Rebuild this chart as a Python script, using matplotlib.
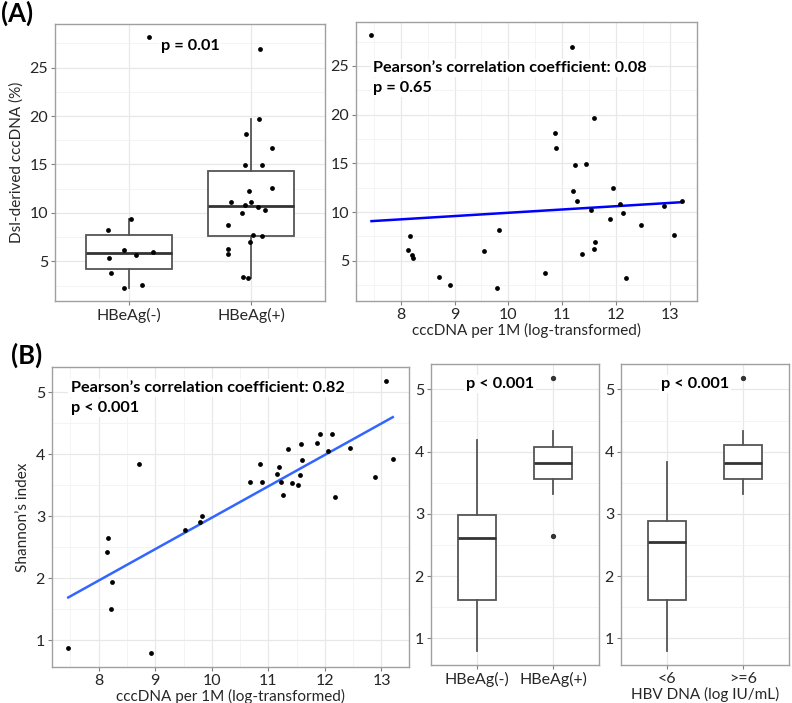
import numpy as np
import matplotlib
matplotlib.use("Agg")
import matplotlib.pyplot as plt
from matplotlib.ticker import MultipleLocator, FixedLocator, NullLocator

plt.rcParams['font.family'] = ['Lato', 'DejaVu Sans']

# ---------------- Data ----------------
a_groups = ["HBeAg(-)", "HBeAg(+)"]
dsi_neg = [28.2, 9.36, 8.2, 6.2, 6.0, 5.65, 5.3, 3.8, 2.6, 2.2]
dsi_neg_jitter = [0.17, 0.016, -0.17, -0.04, 0.2, 0.056, -0.16, -0.14, 0.11, -0.04]
dsi_pos = [26.93, 19.74, 18.1, 16.65, 14.9, 14.97, 12.56, 12.29, 11.15, 11.15, 10.8,
           10.64, 10.29, 9.98, 8.78, 7.68, 7.61, 6.96, 6.27, 5.72, 3.38, 3.32]
dsi_pos_jitter = [0.07, 0.06, -0.04, 0.17, -0.05, 0.09, 0.17, -0.02, -0.17, 0.0, -0.05,
                  0.05, 0.11, -0.08, -0.19, 0.01, 0.09, -0.01, -0.19, -0.19, -0.07, -0.03]

ccc_a = [7.46, 11.17, 11.59, 10.87, 10.89, 11.23, 11.43, 11.94, 11.19, 11.27, 13.21,
         12.07, 12.89, 11.54, 12.13, 11.88, 12.45, 9.83, 8.17, 13.08, 11.6, 8.14,
         9.54, 11.58, 8.22, 8.23, 11.36, 8.72, 10.67, 8.92, 9.79, 12.18]
dsi_a = [28.2, 26.9, 19.7, 18.1, 16.6, 14.8, 14.9, 12.5, 12.2, 11.1, 11.1,
         10.8, 10.6, 10.2, 9.9, 9.33, 8.7, 8.2, 7.56, 7.66, 6.94, 6.13,
         6.02, 6.23, 5.61, 5.3, 5.72, 3.33, 3.77, 2.54, 2.17, 3.26]

ccc_b = [7.46, 8.92, 8.14, 8.16, 8.23, 8.22, 8.72, 9.53, 9.79, 9.82, 10.67, 10.86,
         10.88, 11.16, 11.18, 11.22, 11.26, 11.35, 11.42, 11.53, 11.56, 11.58, 11.59,
         11.86, 11.92, 12.06, 12.13, 12.18, 12.44, 12.88, 13.08, 13.2]
shannon_b = [0.88, 0.79, 2.43, 2.65, 1.94, 1.50, 3.84, 2.78, 2.91, 3.0, 3.55, 3.84,
             3.56, 3.69, 3.79, 3.56, 3.34, 4.09, 3.54, 3.5, 3.66, 4.17, 3.91,
             4.18, 4.33, 4.06, 4.33, 3.32, 4.11, 3.63, 5.19, 3.93]

shannon_hbeag_neg = [0.88, 0.79, 3.0, 2.43, 2.78, 1.50, 1.94, 3.55, 2.91, 4.18]
shannon_hbeag_pos = [2.65, 3.84, 3.84, 3.56, 3.69, 3.79, 3.56, 3.34, 4.09, 3.54, 3.5,
                     3.66, 4.17, 3.91, 4.33, 4.06, 4.33, 3.32, 4.11, 3.63, 5.19, 3.93]
dna_groups = ["<6", ">=6"]
shannon_dna_low = [0.79, 0.88, 1.50, 1.94, 2.43, 2.65, 2.78, 2.91, 3.0, 3.84]
shannon_dna_high = [3.32, 3.34, 3.5, 3.54, 3.55, 3.56, 3.56, 3.63, 3.66, 3.69, 3.79,
                    3.84, 3.91, 3.93, 4.06, 4.09, 4.11, 4.17, 4.18, 4.33, 4.33, 5.19]

# ---------------- Layout ----------------
W, H = 792, 703
fig = plt.figure(figsize=(W / 100, H / 100), dpi=100)


def add_ax(left, right, top, bottom):
    return fig.add_axes([left / W, 1 - bottom / H, (right - left) / W, (bottom - top) / H])


TICK_FS = 11.5
LAB_FS = 11
ANN_FS = 11.7
BORDER = '#a0a0a0'
PT_S = 12


def style(ax):
    for s in ax.spines.values():
        s.set_color(BORDER)
        s.set_linewidth(1.0)
    ax.tick_params(which='major', color='#808080', length=3, width=0.8,
                   labelsize=TICK_FS, labelcolor='#262626', pad=2)
    ax.tick_params(which='minor', length=0)
    ax.grid(which='major', color='#e8e8e8', lw=0.9)
    ax.grid(which='minor', color='#f2f2f2', lw=0.6)
    ax.set_axisbelow(True)


def expand(vals):
    lo, hi = min(vals), max(vals)
    r = hi - lo
    return lo - 0.05 * r, hi + 0.05 * r


def boxes(ax, data, width, fliers):
    ax.boxplot(data, positions=[1, 2], widths=width, showfliers=fliers, showcaps=False,
               patch_artist=True, whis=1.5,
               boxprops=dict(facecolor='white', edgecolor='#555555', lw=1.3),
               medianprops=dict(color='#333333', lw=2.0),
               whiskerprops=dict(color='#555555', lw=1.3),
               flierprops=dict(marker='o', markerfacecolor='#333333', markeredgecolor='#333333',
                               markersize=2.8), zorder=2)


def label(ax, x, y, s, ha='left'):
    ax.text(x, y, s, transform=ax.transAxes, ha=ha, va='center', fontsize=ANN_FS,
            fontweight='bold', color='black', zorder=5,
            bbox=dict(facecolor='white', edgecolor='none', pad=1.5))


# ---- A1 ----
ax1 = add_ax(55, 325, 24, 301)
style(ax1)
boxes(ax1, [dsi_neg, dsi_pos], 0.7, False)
ax1.scatter(1 + np.array(dsi_neg_jitter), dsi_neg, s=PT_S, color='black', zorder=4, lw=0)
ax1.scatter(2 + np.array(dsi_pos_jitter), dsi_pos, s=PT_S, color='black', zorder=4, lw=0)
ax1.set_xlim(0.4, 2.6)
ax1.set_ylim(*expand(dsi_neg + dsi_pos))
ax1.xaxis.set_major_locator(FixedLocator([1, 2]))
ax1.set_xticklabels(a_groups)
ax1.xaxis.set_minor_locator(NullLocator())
ax1.yaxis.set_major_locator(MultipleLocator(5))
ax1.yaxis.set_minor_locator(MultipleLocator(2.5))
ax1.set_ylabel('Dsl-derived cccDNA (%)', fontsize=LAB_FS, color='#262626', labelpad=4)
label(ax1, 0.5, 0.92, 'p = 0.01', ha='center')

# ---- A2 ----
ax2 = add_ax(356, 697, 22, 301)
style(ax2)
ax2.scatter(ccc_a, dsi_a, s=PT_S, color='black', zorder=4, lw=0)
k, b = np.polyfit(ccc_a, dsi_a, 1)
xs = np.array([min(ccc_a), max(ccc_a)])
ax2.plot(xs, k * xs + b, color='#0000ff', lw=1.8, zorder=3)
ax2.set_xlim(*expand(ccc_a))
ax2.set_ylim(*expand(dsi_a))
ax2.xaxis.set_major_locator(MultipleLocator(1))
ax2.xaxis.set_minor_locator(MultipleLocator(0.5))
ax2.yaxis.set_major_locator(MultipleLocator(5))
ax2.yaxis.set_minor_locator(MultipleLocator(2.5))
ax2.set_xlabel('cccDNA per 1M (log-transformed)', fontsize=LAB_FS, color='#262626', labelpad=1)
label(ax2, 0.05, 0.835, 'Pearson\u2019s correlation coefficient: 0.08')
label(ax2, 0.05, 0.763, 'p = 0.65')

# ---- B1 ----
ax3 = add_ax(52, 409, 367, 667)
style(ax3)
ax3.scatter(ccc_b, shannon_b, s=PT_S, color='black', zorder=4, lw=0)
k, b = np.polyfit(ccc_b, shannon_b, 1)
xs = np.array([min(ccc_b), max(ccc_b)])
ax3.plot(xs, k * xs + b, color='#3366ff', lw=1.8, zorder=3)
ax3.set_xlim(*expand(ccc_b))
ax3.set_ylim(*expand(shannon_b))
ax3.xaxis.set_major_locator(MultipleLocator(1))
ax3.xaxis.set_minor_locator(MultipleLocator(0.5))
ax3.yaxis.set_major_locator(MultipleLocator(1))
ax3.yaxis.set_minor_locator(MultipleLocator(0.5))
ax3.set_xlabel('cccDNA per 1M (log-transformed)', fontsize=LAB_FS, color='#262626', labelpad=1)
ax3.set_ylabel('Shannon\u2019s index', fontsize=LAB_FS, color='#262626', labelpad=4)
label(ax3, 0.052, 0.929, 'Pearson\u2019s correlation coefficient: 0.82')
label(ax3, 0.052, 0.864, 'p < 0.001')

# ---- B2 ----
ax4 = add_ax(431, 599, 364, 665)
style(ax4)
boxes(ax4, [shannon_hbeag_neg, shannon_hbeag_pos], 0.5, True)
ax4.set_xlim(0.4, 2.6)
ax4.set_ylim(*expand(shannon_hbeag_neg + shannon_hbeag_pos))
ax4.xaxis.set_major_locator(FixedLocator([1, 2]))
ax4.set_xticklabels(a_groups)
ax4.xaxis.set_minor_locator(NullLocator())
ax4.yaxis.set_major_locator(MultipleLocator(1))
ax4.yaxis.set_minor_locator(MultipleLocator(0.5))
label(ax4, 0.41, 0.934, 'p < 0.001', ha='center')

# ---- B3 ----
ax5 = add_ax(621, 789, 364, 665)
style(ax5)
boxes(ax5, [shannon_dna_low, shannon_dna_high], 0.5, True)
ax5.set_xlim(0.4, 2.6)
ax5.set_ylim(*expand(shannon_dna_low + shannon_dna_high))
ax5.xaxis.set_major_locator(FixedLocator([1, 2]))
ax5.set_xticklabels(dna_groups)
ax5.xaxis.set_minor_locator(NullLocator())
ax5.yaxis.set_major_locator(MultipleLocator(1))
ax5.yaxis.set_minor_locator(MultipleLocator(0.5))
ax5.set_xlabel('HBV DNA (log IU/mL)', fontsize=LAB_FS, color='#262626', labelpad=1)
label(ax5, 0.44, 0.934, 'p < 0.001', ha='center')

# Panel tags
fig.text(1 / W, 1 - 13 / H, '(A)', fontsize=18.5, fontweight='bold', ha='left', va='center')
fig.text(11 / W, 1 - 355 / H, '(B)', fontsize=18.5, fontweight='bold', ha='left', va='center')

fig.savefig('out.png', dpi=100)
